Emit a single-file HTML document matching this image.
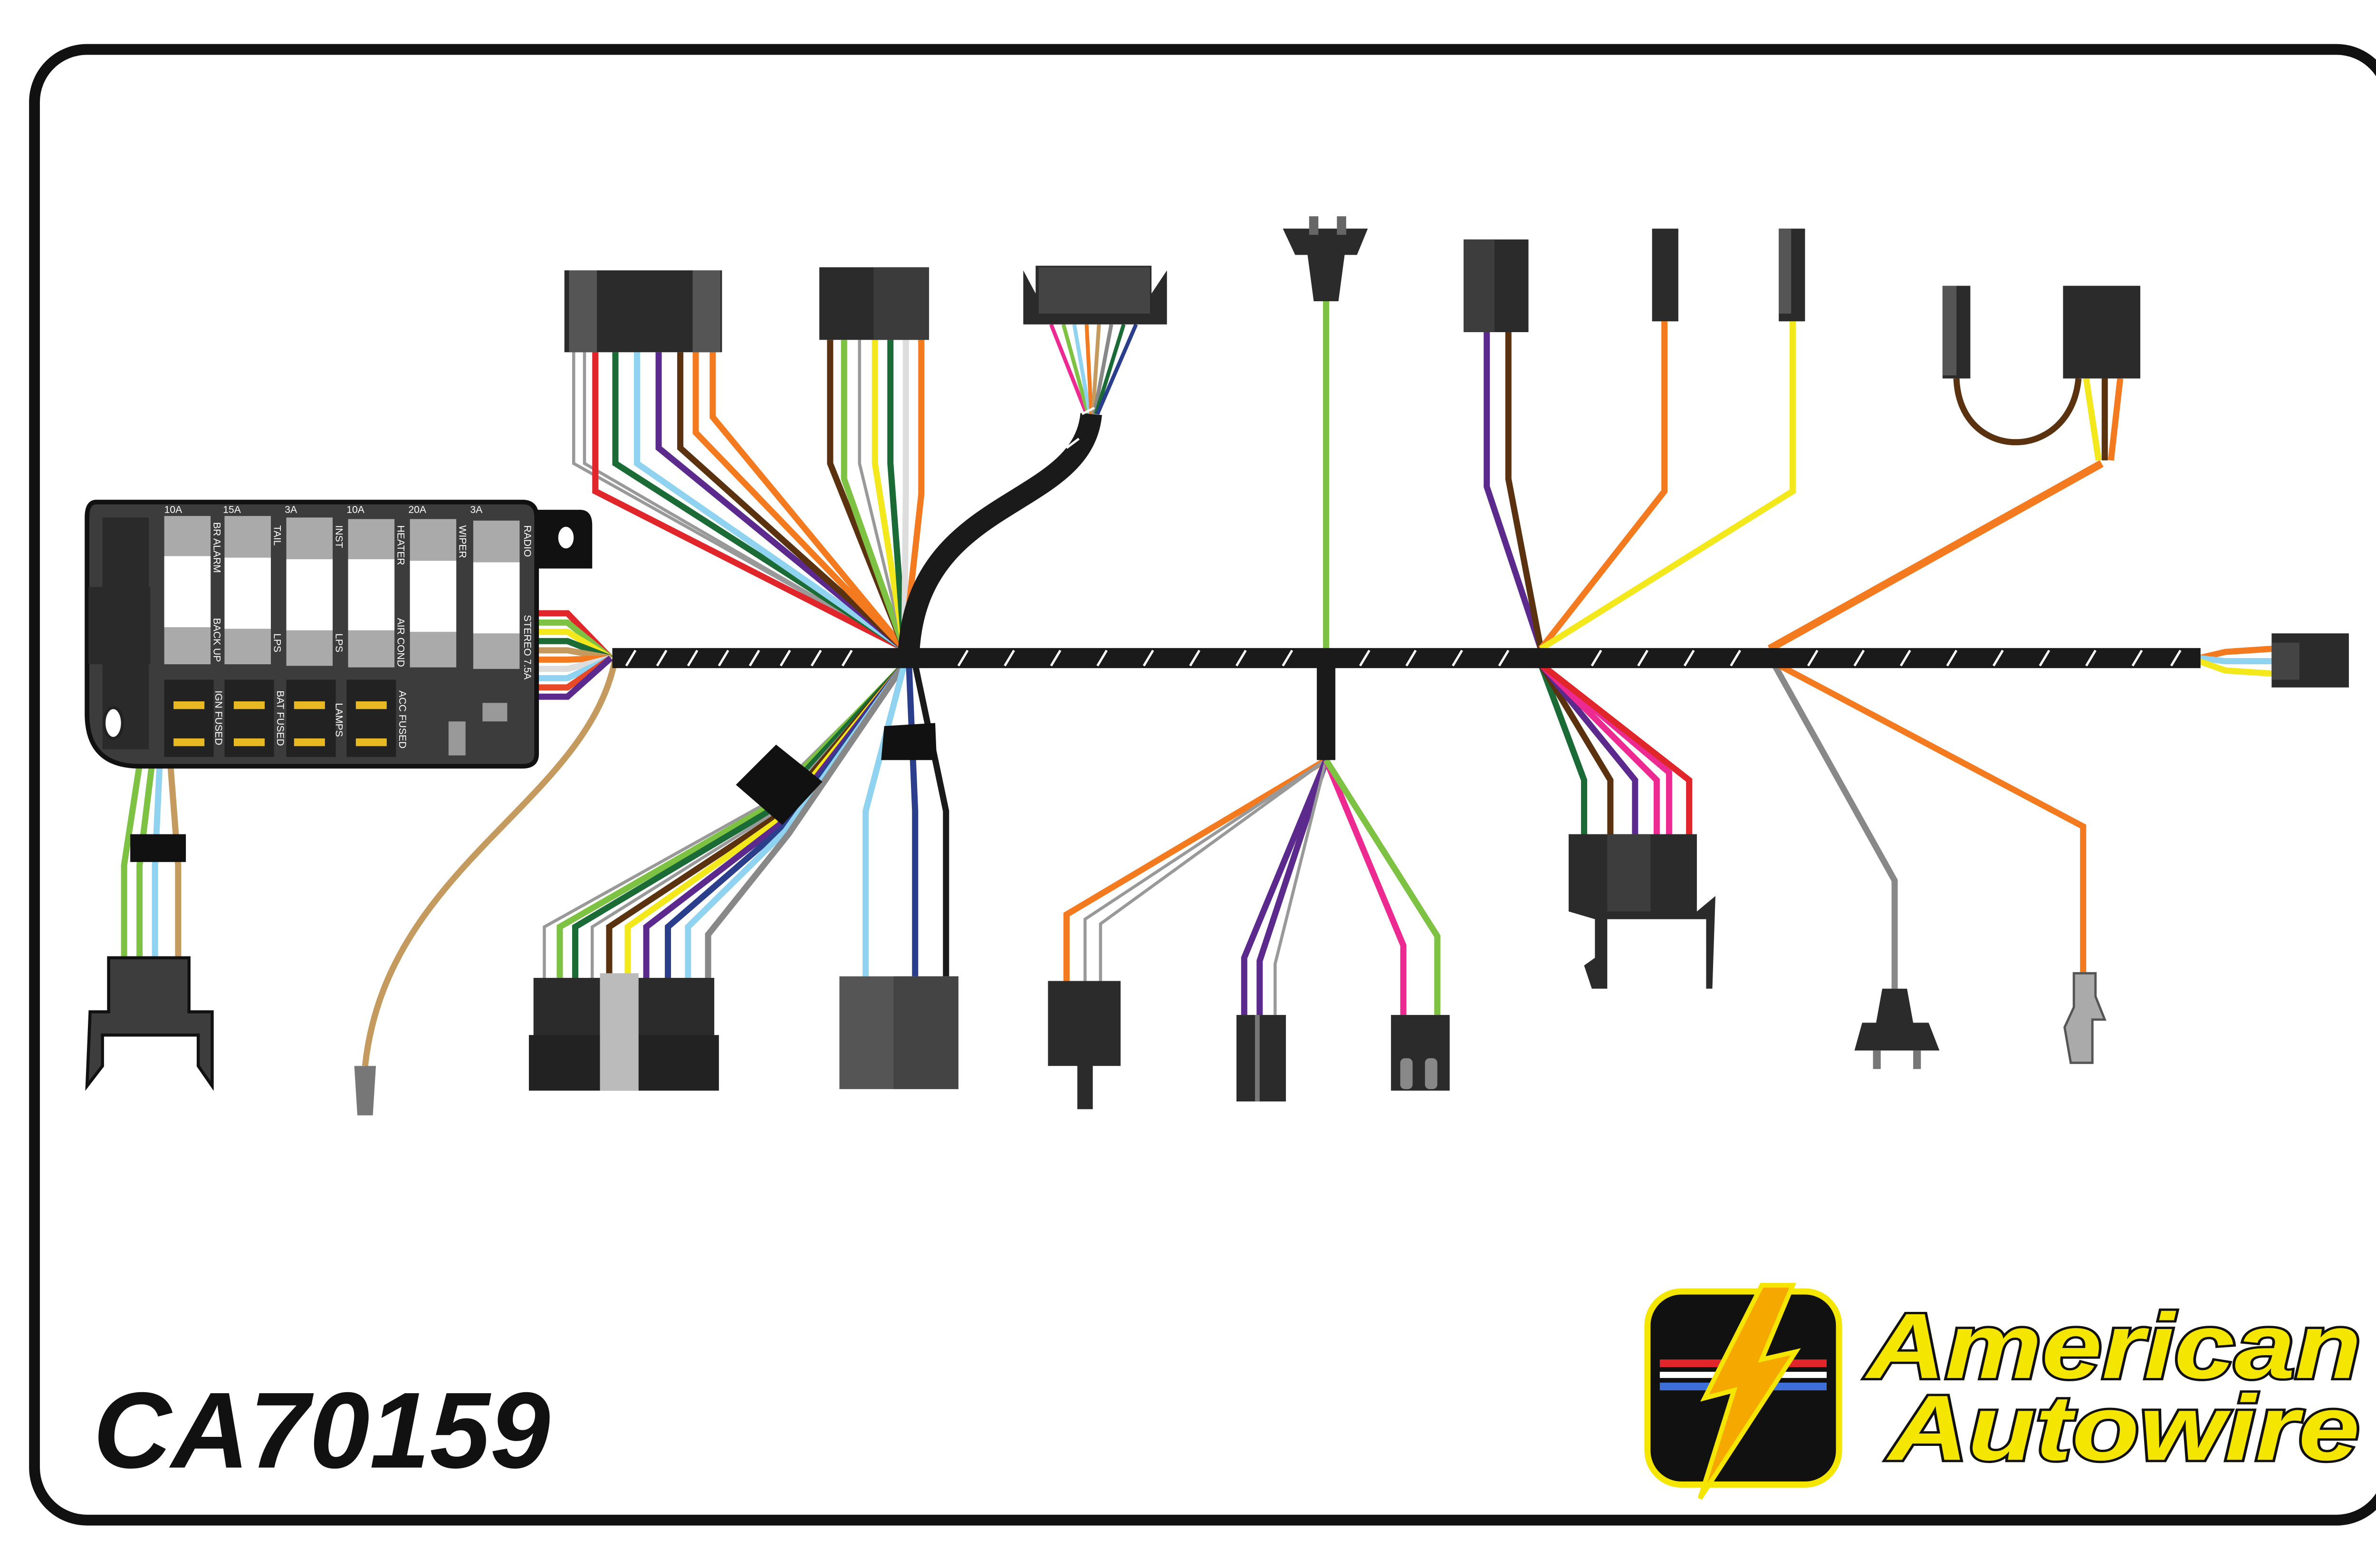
<!DOCTYPE html>
<html><head><meta charset="utf-8"><style>
html,body{margin:0;padding:0;background:#fff}
svg{display:block}
text{font-family:"Liberation Sans",sans-serif}
</style></head><body>
<svg width="5100" height="3300" viewBox="0 0 1568 1015" xmlns="http://www.w3.org/2000/svg">
<rect x="0" y="0" width="1568" height="1015" fill="#fff"/>
<rect x="22" y="32" width="1524" height="952" rx="34" fill="#fff" stroke="#111" stroke-width="7"/>

<path d="M398,426 C380,520 250,560 236,690" fill="none" stroke="#c49a5e" stroke-width="4"/>
<path d="M229,690 L243,690 L241,722 L231,722 Z" fill="#777"/>

<g fill="none" stroke-width="4">
<path d="M345,397 L367,397 L395,426" stroke="#e0262b"/>
<path d="M345,403 L367,403 L395,426" stroke="#7dc242"/>
<path d="M345,409 L367,409 L395,426" stroke="#f2e81c"/>
<path d="M345,415 L367,415 L395,426" stroke="#1a6b35"/>
<path d="M345,421 L367,421 L395,426" stroke="#c49a5e"/>
<path d="M345,427 L367,427 L395,426" stroke="#f47a20"/>
<path d="M345,433 L367,433 L395,426" stroke="#ddd"/>
<path d="M345,439 L367,439 L395,426" stroke="#8fd3f0"/>
<path d="M345,445 L367,445 L395,426" stroke="#e84a27"/>
<path d="M345,451 L367,451 L395,426" stroke="#5b2a8c"/>
</g>

<g fill="none" stroke-width="4">
<path d="M371,228 L371,300 L585,420" stroke="#999" stroke-width="2"/>
<path d="M378,228 L378,300 L585,420" stroke="#999" stroke-width="2"/>
<path d="M385,228 L385,318 L585,420" stroke="#e0262b"/>
<path d="M398,228 L398,300 L585,420" stroke="#1a6b35"/>
<path d="M412,228 L412,300 L585,420" stroke="#8fd3f0"/>
<path d="M426,228 L426,290 L585,420" stroke="#5b2a8c"/>
<path d="M440,228 L440,290 L585,420" stroke="#5a3210"/>
<path d="M450,228 L450,280 L585,420" stroke="#f47a20"/>
<path d="M461,228 L461,270 L585,420" stroke="#f47a20"/>
</g>
<g fill="none" stroke-width="4">
<path d="M537,220 L537,300 L585,420" stroke="#5a3210"/>
<path d="M546,220 L546,310 L585,420" stroke="#7dc242"/>
<path d="M556,220 L556,300 L585,420" stroke="#999" stroke-width="2"/>
<path d="M566,220 L566,300 L585,420" stroke="#f2e81c"/>
<path d="M576,220 L576,300 L585,420" stroke="#1a6b35"/>
<path d="M586,220 L586,320 L585,420" stroke="#ddd"/>
<path d="M596,220 L596,320 L585,420" stroke="#f47a20"/>
</g>
<g fill="none" stroke-width="2.5">
<path d="M680,210 L703,268" stroke="#ed2a91"/>
<path d="M688,210 L704,268" stroke="#7dc242"/>
<path d="M695,210 L705,268" stroke="#8fd3f0"/>
<path d="M703,210 L706,268" stroke="#f47a20"/>
<path d="M711,210 L707,268" stroke="#c49a5e"/>
<path d="M719,210 L708,268" stroke="#888"/>
<path d="M727,210 L709,268" stroke="#1a6b35"/>
<path d="M735,210 L710,268" stroke="#2a3e8c"/>
</g>
<path d="M706,268 C700,330 595,320 588,420" fill="none" stroke="#1a1a1a" stroke-width="14"/>

<line x1="858" y1="195" x2="858" y2="422" stroke="#7dc242" stroke-width="4"/>

<g fill="none" stroke-width="4">
<path d="M962,215 L962,315 L997,420" stroke="#5b2a8c"/>
<path d="M976,215 L976,310 L997,420" stroke="#5a3210"/>
<path d="M1077,208 L1077,318 L997,420" stroke="#f47a20"/>
<path d="M1160,208 L1160,318 L997,420" stroke="#f2e81c"/>
<path d="M1266,245 C1268,300 1340,300 1345,245" stroke="#5a3210"/>
<path d="M1350,245 L1358,298" stroke="#f2e81c"/>
<path d="M1362,245 L1362,298" stroke="#5a3210"/>
<path d="M1372,245 L1366,298" stroke="#f47a20"/>
<path d="M1360,300 L1145,420" stroke="#f47a20" stroke-width="5"/>
<path d="M1423,426 L1440,422 L1470,420" stroke="#f47a20"/>
<path d="M1423,426 L1440,428 L1470,428" stroke="#8fd3f0"/>
<path d="M1423,428 L1440,434 L1470,436" stroke="#f2e81c"/>
</g>

<g fill="none" stroke-width="4">
<path d="M585,430 L492,522 L352,600 L352,635" stroke="#999" stroke-width="2"/>
<path d="M585,430 L494,524 L362,600 L362,635" stroke="#7dc242"/>
<path d="M585,430 L496,526 L372,600 L372,635" stroke="#1a6b35"/>
<path d="M585,430 L498,528 L383,600 L383,635" stroke="#999" stroke-width="2"/>
<path d="M585,430 L500,530 L394,600 L394,635" stroke="#5a3210"/>
<path d="M585,430 L502,532 L406,600 L406,635" stroke="#f2e81c"/>
<path d="M585,430 L504,534 L418,600 L418,635" stroke="#5b2a8c"/>
<path d="M585,430 L506,536 L432,600 L432,635" stroke="#2a3e8c"/>
<path d="M585,430 L508,538 L445,600 L445,635" stroke="#8fd3f0"/>
<path d="M585,430 L510,540 L458,605 L458,635" stroke="#888"/>
<path d="M585,430 L560,525 L560,632" stroke="#8fd3f0"/>
<path d="M588,430 L592,525 L592,632" stroke="#2a3e8c"/>
<path d="M592,430 L612,525 L612,632" stroke="#1a1a1a"/>
<path d="M858,492 L690,592 L690,635" stroke="#f47a20"/>
<path d="M858,492 L702,595 L702,635" stroke="#999" stroke-width="2"/>
<path d="M858,492 L712,598 L712,635" stroke="#999" stroke-width="2"/>
<path d="M858,492 L805,620 L805,657" stroke="#5b2a8c"/>
<path d="M858,492 L815,622 L815,657" stroke="#5b2a8c"/>
<path d="M858,492 L825,624 L825,657" stroke="#999" stroke-width="2"/>
<path d="M858,492 L908,612 L908,657" stroke="#ed2a91"/>
<path d="M858,492 L930,606 L930,657" stroke="#7dc242"/>
<path d="M997,430 L1025,505 L1025,542" stroke="#1a6b35"/>
<path d="M997,430 L1042,505 L1042,542" stroke="#5a3210"/>
<path d="M997,430 L1058,505 L1058,542" stroke="#5b2a8c"/>
<path d="M997,430 L1072,505 L1072,542" stroke="#ed2a91"/>
<path d="M997,430 L1080,500 L1080,542" stroke="#ed2a91"/>
<path d="M997,430 L1093,505 L1093,542" stroke="#e0262b"/>
<path d="M1148,430 L1226,570 L1226,640" stroke="#888"/>
<path d="M1150,430 L1348,535 L1348,632" stroke="#f47a20"/>
<path d="M90,495 L80,560 L80,620" stroke="#7dc242"/>
<path d="M98,495 L90,560 L90,620" stroke="#7dc242"/>
<path d="M103,495 L100,560 L100,620" stroke="#8fd3f0"/>
<path d="M110,495 L115,560 L115,620" stroke="#c49a5e"/>
</g>
<polygon points="476,508 502,482 532,506 506,534" fill="#111"/>
<polygon points="572,470 605,468 606,492 570,492" fill="#111"/>
<rect x="84" y="540" width="36" height="18" fill="#111"/>
<rect x="852" y="430" width="12" height="62" fill="#1a1a1a"/>

<line x1="396" y1="426" x2="1424" y2="426" stroke="#1a1a1a" stroke-width="13"/>
<path d="M405,431 l6,-10 M425,431 l6,-10 M445,431 l6,-10 M465,431 l6,-10 M485,431 l6,-10 M505,431 l6,-10 M525,431 l6,-10 M545,431 l6,-10 M620,431 l6,-10 M650,431 l6,-10 M680,431 l6,-10 M710,431 l6,-10 M740,431 l6,-10 M770,431 l6,-10 M800,431 l6,-10 M830,431 l6,-10 M880,431 l6,-10 M910,431 l6,-10 M940,431 l6,-10 M970,431 l6,-10 M1030,431 l6,-10 M1060,431 l6,-10 M1090,431 l6,-10 M1120,431 l6,-10 M1170,431 l6,-10 M1200,431 l6,-10 M1230,431 l6,-10 M1260,431 l6,-10 M1290,431 l6,-10 M1320,431 l6,-10 M1350,431 l6,-10 M1380,431 l6,-10 M1405,431 l6,-10" stroke="#fff" stroke-width="1.5"/>
<path d="M611,330 l8,-6 M650,310 l8,-6 M690,290 l8,-6 M700,268 l8,-4" stroke="#fff" stroke-width="1.5"/>

<path d="M345,330 L375,330 Q383,330 383,340 L383,368 L345,368 Z" fill="#111"/>
<ellipse cx="366" cy="348" rx="5" ry="7" fill="#fff"/>
<path d="M62,325 L338,325 Q347,325 347,335 L347,488 Q347,496 338,496 L90,496 Q56,496 56,462 L56,335 Q56,325 62,325 Z" fill="#3d3c3d" stroke="#111" stroke-width="3"/>
<rect x="66" y="335" width="30" height="150" fill="#2a2a2a"/>
<rect x="57" y="380" width="40" height="50" fill="#2a2a2a"/>
<g fill="#aaa">
<rect x="106" y="334" width="30" height="96"/><rect x="145" y="334" width="30" height="96"/><rect x="185" y="335" width="30" height="96"/>
<rect x="225" y="336" width="30" height="96"/><rect x="265" y="336" width="30" height="96"/><rect x="306" y="337" width="30" height="96"/>
</g>
<g fill="#fff">
<rect x="106" y="360" width="30" height="46"/><rect x="145" y="361" width="30" height="46"/><rect x="185" y="362" width="30" height="46"/>
<rect x="225" y="362" width="30" height="46"/><rect x="265" y="363" width="30" height="46"/><rect x="306" y="364" width="30" height="46"/>
</g>
<g fill="#222">
<rect x="106" y="440" width="32" height="50"/><rect x="145" y="440" width="32" height="50"/><rect x="185" y="440" width="32" height="50"/><rect x="224" y="440" width="32" height="50"/>
</g>
<g fill="#e8b923">
<rect x="112" y="454" width="20" height="5"/><rect x="112" y="478" width="20" height="5"/>
<rect x="151" y="454" width="20" height="5"/><rect x="151" y="478" width="20" height="5"/>
<rect x="190" y="454" width="20" height="5"/><rect x="190" y="478" width="20" height="5"/>
<rect x="230" y="454" width="20" height="5"/><rect x="230" y="478" width="20" height="5"/>
</g>
<ellipse cx="73" cy="468" rx="6" ry="10" fill="#fff" stroke="#222" stroke-width="2"/>
<rect x="312" y="455" width="16" height="12" fill="#999"/>
<rect x="290" y="467" width="11" height="22" fill="#999"/>
<g fill="#fff" font-size="6.5">
<text x="106" y="332">10A</text><text x="144" y="332">15A</text><text x="184" y="332">3A</text><text x="224" y="332">10A</text><text x="264" y="332">20A</text><text x="304" y="332">3A</text>
<text transform="translate(138,338) rotate(90)">BR ALARM</text><text transform="translate(138,400) rotate(90)">BACK UP</text>
<text transform="translate(177,340) rotate(90)">TAIL</text><text transform="translate(177,410) rotate(90)">LPS</text>
<text transform="translate(217,340) rotate(90)">INST</text><text transform="translate(217,410) rotate(90)">LPS</text>
<text transform="translate(257,340) rotate(90)">HEATER</text><text transform="translate(257,400) rotate(90)">AIR COND</text>
<text transform="translate(297,340) rotate(90)">WIPER</text>
<text transform="translate(339,340) rotate(90)">RADIO</text><text transform="translate(339,398) rotate(90)">STEREO 7.5A</text>
<text transform="translate(139,447) rotate(90)">IGN FUSED</text><text transform="translate(179,447) rotate(90)">BAT FUSED</text>
<text transform="translate(217,455) rotate(90)">LAMPS</text><text transform="translate(258,447) rotate(90)">ACC FUSED</text>
</g>

<rect x="365" y="175" width="102" height="53" fill="#2b2b2b"/>
<rect x="368" y="175" width="18" height="53" fill="#555"/><rect x="448" y="175" width="18" height="53" fill="#555"/>
<rect x="530" y="173" width="71" height="47" fill="#2b2b2b"/><rect x="565" y="173" width="36" height="47" fill="#3b3b3b"/>
<path d="M662,175 L670,190 L670,172 L745,172 L745,190 L755,175 L755,210 L662,210 Z" fill="#2b2b2b"/>
<rect x="672" y="173" width="72" height="30" fill="#444"/>
<path d="M830,148 L885,148 L878,165 L870,165 L866,195 L850,195 L846,165 L838,165 Z" fill="#2b2b2b"/>
<rect x="847" y="140" width="6" height="12" fill="#666"/><rect x="865" y="140" width="6" height="12" fill="#666"/>
<rect x="947" y="155" width="42" height="60" fill="#2b2b2b"/><rect x="947" y="155" width="20" height="60" fill="#3d3d3d"/>
<rect x="1069" y="148" width="17" height="60" fill="#2b2b2b"/>
<rect x="1151" y="148" width="17" height="60" fill="#2b2b2b"/><rect x="1151" y="148" width="8" height="55" fill="#555"/>
<rect x="1257" y="185" width="18" height="60" fill="#2b2b2b"/><rect x="1257" y="185" width="9" height="58" fill="#555"/>
<rect x="1335" y="185" width="50" height="60" fill="#2b2b2b"/>
<rect x="1470" y="410" width="50" height="35" fill="#2b2b2b"/><rect x="1470" y="416" width="18" height="24" fill="#444"/>

<path d="M58,655 L70,655 L70,620 L122,620 L122,655 L137,655 L137,703 L128,690 L128,670 L66,670 L66,690 L56,703 Z" fill="#3d3d3d" stroke="#111" stroke-width="2"/>
<rect x="345" y="633" width="117" height="40" fill="#2b2b2b"/>
<rect x="342" y="670" width="123" height="36" fill="#222"/>
<rect x="388" y="630" width="25" height="76" fill="#bbb"/>
<rect x="543" y="632" width="77" height="73" fill="#555"/><rect x="578" y="632" width="42" height="73" fill="#444"/>
<rect x="678" y="635" width="47" height="55" fill="#2b2b2b"/><rect x="697" y="680" width="10" height="38" fill="#2b2b2b"/>
<rect x="800" y="657" width="32" height="56" fill="#2b2b2b"/><rect x="812" y="657" width="3" height="56" fill="#777"/>
<rect x="900" y="657" width="38" height="49" fill="#2b2b2b"/><rect x="906" y="685" width="8" height="20" fill="#888" rx="3"/><rect x="922" y="685" width="8" height="20" fill="#888" rx="3"/>
<path d="M1015,540 L1098,540 L1098,590 L1110,580 L1108,640 L1104,640 L1104,595 L1040,595 L1040,640 L1030,640 L1025,625 L1032,620 L1032,595 L1015,590 Z" fill="#2b2b2b"/>
<rect x="1040" y="540" width="28" height="50" fill="#3d3d3d"/>
<path d="M1200,680 L1255,680 L1248,662 L1238,662 L1234,640 L1218,640 L1214,662 L1205,662 Z" fill="#2b2b2b"/>
<rect x="1212" y="680" width="5" height="12" fill="#777"/><rect x="1238" y="680" width="5" height="12" fill="#777"/>
<path d="M1342,630 L1356,630 L1356,645 L1362,660 L1354,660 L1354,688 L1340,688 L1336,665 L1342,652 Z" fill="#aaa" stroke="#555" stroke-width="1.5"/>

<text x="60" y="950" font-size="70" font-weight="bold" font-style="italic" fill="#111">CA70159</text>

<rect x="1066" y="836" width="124" height="125" rx="22" fill="#111" stroke="#f5e600" stroke-width="4"/>
<rect x="1074" y="880" width="108" height="5" fill="#e0262b"/><rect x="1074" y="888" width="108" height="4" fill="#fff"/><rect x="1074" y="895" width="108" height="5" fill="#3d6fd9"/>
<polygon points="1140,832 1160,832 1140,880 1162,875 1100,970 1122,900 1103,905" fill="#f5a800" stroke="#f5e600" stroke-width="3"/>
<g font-size="60" font-weight="bold" font-style="italic" fill="#f5e600" stroke="#111" stroke-width="3" paint-order="stroke">
<text x="1208" y="892" textLength="320" lengthAdjust="spacingAndGlyphs">American</text>
<text x="1222" y="945" textLength="305" lengthAdjust="spacingAndGlyphs">Autowire</text>
</g>
</svg>
</body></html>
